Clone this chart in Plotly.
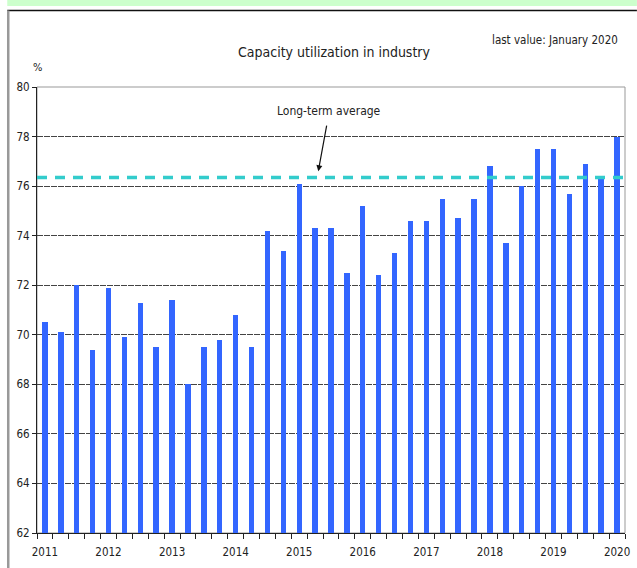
import plotly.graph_objects as go

# ---- data ----
quarters = [f"{y}Q{q}" for y in range(2011, 2020) for q in range(1, 5)] + ["2020Q1"]
values = [70.5, 70.1, 72.0, 69.4,
          71.9, 69.9, 71.3, 69.5,
          71.4, 68.0, 69.5, 69.8,
          70.8, 69.5, 74.2, 73.4,
          76.1, 74.3, 74.3, 72.5,
          75.2, 72.4, 73.3, 74.6,
          74.6, 75.5, 74.7, 75.5,
          76.8, 73.7, 76.0, 77.5,
          77.5, 75.7, 76.9, 76.3,
          78.0]
year_labels = [str(y) for y in range(2011, 2021)]
long_term_average = 76.35
y_ticks = [62, 64, 66, 68, 70, 72, 74, 76, 78, 80]

FONT = "DejaVu Sans Condensed, Liberation Sans Narrow, sans-serif"

W, H = 637, 568
L, R, T, B = 37, 7, 87, 35
pw = W - L - R
ph = H - T - B

def px(x):
    return (x - L) / pw

def py(y):
    return (H - B - y) / ph

xpos = list(range(len(quarters)))
year_pos = [xpos[quarters.index(f"{y}Q1")] for y in year_labels]

fig = go.Figure()
fig.add_trace(go.Bar(
    x=xpos, y=values, width=0.34,
    marker=dict(color="#3366FF", line=dict(width=0)),
    hovertext=quarters, showlegend=False,
))

fig.update_layout(
    width=W, height=H,
    margin=dict(l=L, r=R, t=T, b=B, pad=0),
    paper_bgcolor="white", plot_bgcolor="white",
    font=dict(family=FONT, size=12, color="#222"),
    bargap=0,
    xaxis=dict(
        range=[-0.5, len(quarters) - 0.5],
        tickvals=year_pos, ticktext=year_labels,
        ticks="", showgrid=False, zeroline=False,
        showline=True, linecolor="#222", linewidth=1.3,
        tickfont=dict(family=FONT, size=11.5, color="#222"),
        ticklabelstandoff=8,
        minor=dict(tick0=-0.5, dtick=1, ticks="outside", ticklen=5,
                   tickcolor="#222", tickwidth=1, showgrid=False),
        fixedrange=True,
    ),
    yaxis=dict(
        range=[62, 80], tickvals=y_ticks,
        ticks="outside", ticklen=4, tickcolor="#222",
        showgrid=True, gridcolor="#444", gridwidth=1, griddash="6px,1px",
        zeroline=False, showline=True, linecolor="#222", linewidth=1.3,
        tickfont=dict(family=FONT, size=11.5, color="#222"),
        fixedrange=True,
    ),
)

shapes = []
# green banner
shapes.append(dict(type="rect", xref="paper", yref="paper",
                   x0=px(7), x1=px(W + 5), y0=py(6), y1=py(-5),
                   fillcolor="#CCFFCC", line=dict(width=0), layer="below"))
# outer frame: top black, left gray
shapes.append(dict(type="line", xref="paper", yref="paper",
                   x0=px(7), x1=px(W + 5), y0=py(10.5), y1=py(10.5),
                   line=dict(color="#111", width=1.5)))
shapes.append(dict(type="line", xref="paper", yref="paper",
                   x0=px(8), x1=px(8), y0=py(10.5), y1=py(H + 5),
                   line=dict(color="#999", width=2.5)))
# plot area border (top/right)
shapes.append(dict(type="rect", xref="paper", yref="paper",
                   x0=0, x1=1, y0=0, y1=1,
                   line=dict(color="#999", width=1), layer="below"))
# long-term average
shapes.append(dict(type="line", xref="paper", yref="y",
                   x0=0, x1=px(633), y0=long_term_average, y1=long_term_average,
                   line=dict(color="#33CCCC", width=3.5, dash="10px,8px")))
fig.update_layout(shapes=shapes)

annotations = [
    dict(text="Capacity utilization in industry", xref="paper", yref="paper",
         x=px(337), y=py(52), showarrow=False,
         font=dict(family=FONT, size=14, color="#222"), xanchor="center", yanchor="middle"),
    dict(text="last value: January 2020", xref="paper", yref="paper",
         x=px(625), y=py(40), showarrow=False,
         font=dict(family=FONT, size=11.5, color="#222"), xanchor="right", yanchor="middle"),
    dict(text="%", xref="paper", yref="paper",
         x=px(37), y=py(67), showarrow=False,
         font=dict(family=FONT, size=11, color="#222"), xanchor="center", yanchor="middle"),
    dict(text="Long-term average", xref="x", yref="y",
         x=17.2, y=long_term_average + 0.25, ax=11, ay=-60,
         showarrow=True, arrowhead=2, arrowsize=1, arrowwidth=1.2,
         arrowcolor="#111", startstandoff=6,
         font=dict(family=FONT, size=12, color="#222")),
]
fig.update_layout(annotations=annotations)

fig.write_html("out.html",
               config={"displayModeBar": False},
               post_script="document.body.style.margin='0';document.body.style.overflow='hidden';")
